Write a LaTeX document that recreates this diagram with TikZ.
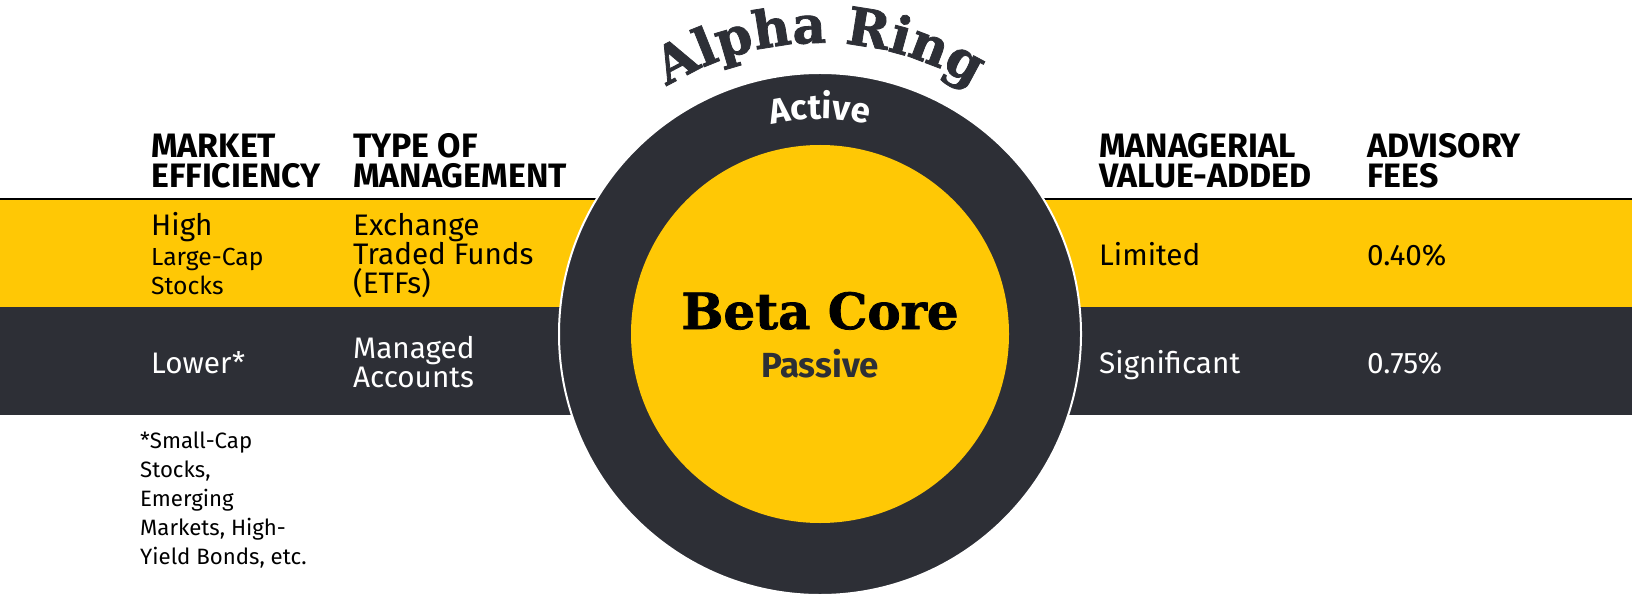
\documentclass[tikz,border=0pt]{standalone}
\usepackage{fontspec}
\setmainfont{Fira Sans}
\newfontfamily\ringfont{DejaVu Serif}[BoldFeatures={FakeBold=1.5}]
\usetikzlibrary{decorations.text}

\definecolor{ringdark}{RGB}{45,47,54}
\definecolor{coreyellow}{RGB}{255,200,5}

\begin{document}
\begin{tikzpicture}[x=1bp,y=-1bp,
    head/.style={anchor=base west,inner sep=0pt,align=left,font=\fontsize{34}{31}\selectfont\bfseries},
    cell/.style={anchor=base west,inner sep=0pt,align=left,font=\fontsize{29.8}{28.5}\selectfont},
    small/.style={anchor=base west,inner sep=0pt,align=left,font=\fontsize{24.8}{29}\selectfont},
    note/.style={anchor=base west,inner sep=0pt,align=left,font=\fontsize{22.3}{29}\selectfont}]
    \useasboundingbox (0,0) rectangle (1632,594);
    % bands
    \fill[coreyellow] (0,199) rectangle (1632,307);
    \fill[ringdark] (0,307) rectangle (1632,415);
    \draw[line width=1.5bp] (0,199) -- (1632,199);
    % ring and core
    \node[circle,minimum size=522bp,inner sep=0pt,fill=ringdark,draw=white,line width=2bp](ring)at(820,334){};
    \node[circle,minimum size=378bp,inner sep=0pt,fill=coreyellow](core)at(820,334){};
    \path[decorate,decoration={text along path,text align=center,
        text={|\color{ringdark}\ringfont\bfseries\fontsize{52}{52}\selectfont|Alpha Ring}}]
        (ring.center) ++(240:291) arc (240:300:291);
    \path[decorate,decoration={text along path,text align=center,
        text={|\color{white}\bfseries\fontsize{35}{35}\selectfont|Active}}]
        (ring.center) ++(250:215) arc (250:290:215);
    \node[anchor=base,inner sep=0pt,font=\ringfont\bfseries\fontsize{50}{50}\selectfont](beta)at(820,329){Beta Core};
    \node[anchor=base,inner sep=0pt,text=ringdark,font=\bfseries\fontsize{35}{35}\selectfont](passive)at(820,377){Passive};
    % headers (base = last line)
    \node[head](h1)at(151,188){MARKET\\EFFICIENCY};
    \node[head](h2)at(353,188){TYPE OF\\MANAGEMENT};
    \node[head](h3)at(1099,188){MANAGERIAL\\VALUE-ADDED};
    \node[head](h4)at(1367,188){ADVISORY\\FEES};
    % yellow row
    \node[cell](high)at(151,236){High};
    \node[small](large)at(151,294){Large-Cap\\Stocks};
    \node[cell](etf)at(353,293){Exchange\\Traded Funds\\(ETFs)};
    \node[cell](limited)at(1099,265){Limited};
    \node[cell](fee1)at(1367,265){0.40\%};
    % dark row
    \node[cell,text=white](lower)at(151,373){Lower*};
    \node[cell,text=white](managed)at(353,387){Managed\\Accounts};
    \node[cell,text=white](signif)at(1099,373){Significant};
    \node[cell,text=white](fee2)at(1367,373){0.75\%};
    % footnote
    \node[note](foot)at(140,564){*Small-Cap\\Stocks,\\Emerging\\Markets, High-\\Yield Bonds, etc.};
\end{tikzpicture}
\end{document}
